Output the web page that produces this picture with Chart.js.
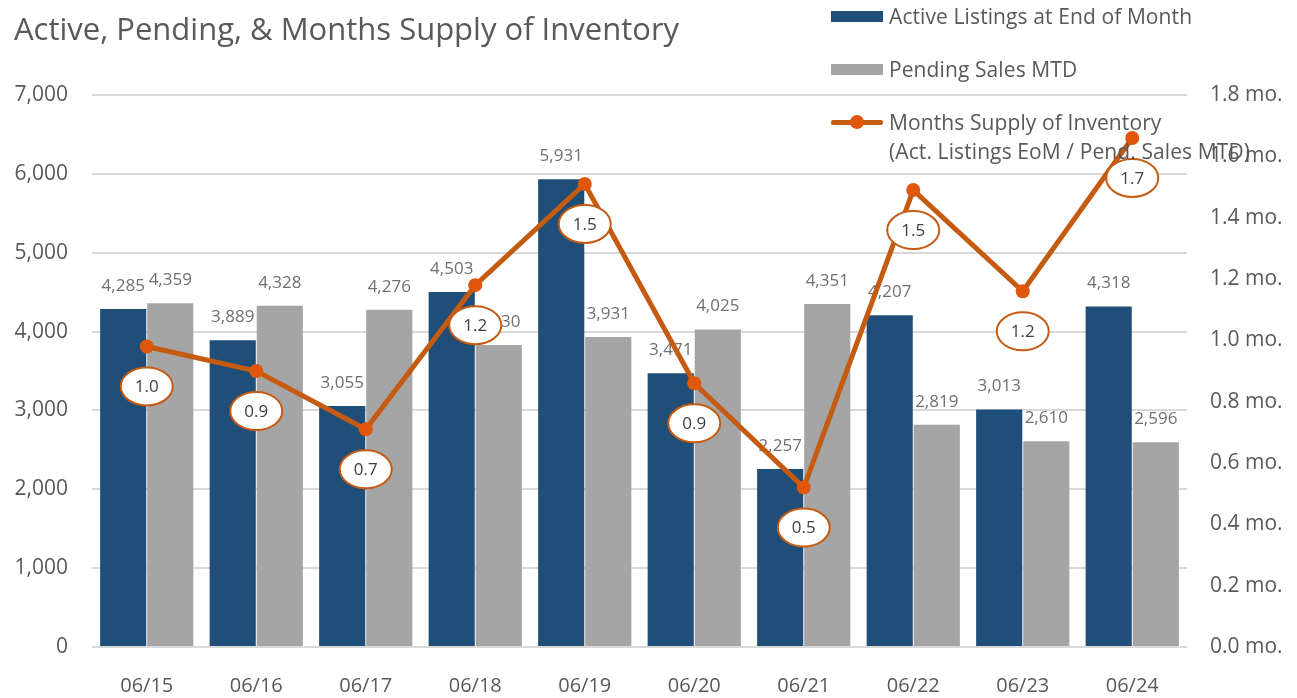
<!DOCTYPE html>
<html>
<head>
<meta charset="utf-8">
<script src="https://cdn.jsdelivr.net/npm/chart.js@4.4.1/dist/chart.umd.min.js"></script>
<style>
  html,body{margin:0;padding:0;background:#fff;}
  #wrap{position:relative;width:1297px;height:698px;font-family:"Open Sans","Noto Sans",sans-serif;color:#595959;}
  canvas{position:absolute;left:0;top:0;}
  #title{position:absolute;left:14px;top:7px;font-size:31px;line-height:42px;color:#595959;white-space:nowrap;}
  .lg{position:absolute;font-size:21px;line-height:29px;color:#595959;white-space:nowrap;letter-spacing:0.1px;}
  .sw{position:absolute;width:52px;height:11px;}
</style>
</head>
<body>
<div id="wrap">
  <canvas id="c" width="1297" height="698"></canvas>
  <div id="title">Active, Pending, &amp; Months Supply of Inventory</div>
  <div class="sw" style="left:831px;top:11px;background:#1f4e79;"></div>
  <div class="lg" style="left:889px;top:2px;">Active Listings at End of Month</div>
  <div class="sw" style="left:831px;top:64px;background:#a5a5a5;"></div>
  <div class="lg" style="left:889px;top:55px;">Pending Sales MTD</div>
  <div style="position:absolute;left:831px;top:120px;width:52px;height:5px;background:#c55a11;border-radius:2px;"></div>
  <div style="position:absolute;left:850px;top:115px;width:14px;height:14px;background:#e0570b;border-radius:50%;"></div>
  <div class="lg" style="left:889px;top:108px;">Months Supply of Inventory<br>(Act. Listings EoM / Pend. Sales MTD)</div>
</div>
<script>
const categories = ["06/15","06/16","06/17","06/18","06/19","06/20","06/21","06/22","06/23","06/24"];
const activeListings = [4285,3889,3055,4503,5931,3471,2257,4207,3013,4318];
const pendingSales = [4359,4328,4276,3830,3931,4025,4351,2819,2610,2596];
const monthsSupply = [0.98,0.90,0.71,1.18,1.51,0.86,0.52,1.49,1.16,1.66];
const leftTicks = [0,1000,2000,3000,4000,5000,6000,7000];
const rightTicks = [0,0.2,0.4,0.6,0.8,1.0,1.2,1.4,1.6,1.8];

const FONT = '"Open Sans","Noto Sans",sans-serif';

const labelPlugin = {
  id: 'labels',
  afterDatasetDraw(chart, args) {
    const ds = chart.data.datasets[args.index];
    if (ds.type !== 'bar') return;
    const ctx = chart.ctx;
    ctx.save();
    ctx.font = '17px ' + FONT;
    ctx.fillStyle = '#707070';
    ctx.textAlign = 'center';
    ctx.textBaseline = 'middle';
    args.meta.data.forEach((el, i) => {
      ctx.fillText(ds.data[i].toLocaleString('en-US'), el.x, el.y - 23);
    });
    ctx.restore();
  },
  afterDatasetsDraw(chart) {
    const ctx = chart.ctx;
    chart.data.datasets.forEach((ds, di) => {
      if (ds.type !== 'line') return;
      const meta = chart.getDatasetMeta(di);
      meta.data.forEach((el, i) => {
        const cx = el.x, cy = el.y + 40;
        ctx.save();
        ctx.beginPath();
        ctx.ellipse(cx, cy, 26, 19, 0, 0, Math.PI * 2);
        ctx.fillStyle = '#ffffff';
        ctx.fill();
        ctx.lineWidth = 2;
        ctx.strokeStyle = '#c55a11';
        ctx.stroke();
        ctx.font = '17px ' + FONT;
        ctx.fillStyle = '#404040';
        ctx.textAlign = 'center';
        ctx.textBaseline = 'middle';
        ctx.fillText((Math.round(ds.data[i] * 10 + 1e-9) / 10).toFixed(1), cx, cy + 1);
        ctx.restore();
      });
    });
  }
};

new Chart(document.getElementById('c'), {
  data: {
    labels: categories,
    datasets: [
      {
        type: 'line',
        label: 'Months Supply of Inventory',
        data: monthsSupply,
        yAxisID: 'y2',
        borderColor: '#c55a11',
        borderWidth: 5,
        pointRadius: 7,
        pointBackgroundColor: '#e0570b',
        pointBorderWidth: 0,
        tension: 0,
        order: 0
      },
      {
        type: 'bar',
        label: 'Active Listings at End of Month',
        data: activeListings,
        yAxisID: 'y',
        backgroundColor: '#1f4e79',
        categoryPercentage: 0.86,
        barPercentage: 0.98,
        order: 1
      },
      {
        type: 'bar',
        label: 'Pending Sales MTD',
        data: pendingSales,
        yAxisID: 'y',
        backgroundColor: '#a5a5a5',
        categoryPercentage: 0.86,
        barPercentage: 0.98,
        order: 2
      }
    ]
  },
  options: {
    responsive: false,
    animation: false,
    layout: { padding: { top: 95, left: 0, right: 0, bottom: 0 } },
    plugins: { legend: { display: false }, tooltip: { enabled: false } },
    scales: {
      x: {
        grid: { display: false },
        border: { display: false },
        ticks: { font: { family: FONT, size: 20 }, color: '#595959', padding: 19 },
        afterFit(s) { s.height = 51; }
      },
      y: {
        position: 'left',
        min: 0, max: 7000,
        afterBuildTicks(s) { s.ticks = leftTicks.map(v => ({ value: v })); },
        grid: { color: '#d9d9d9', lineWidth: 2, drawTicks: false },
        border: { display: false },
        ticks: { font: { family: FONT, size: 21 }, color: '#595959', padding: 24,
          callback: v => v.toLocaleString('en-US') },
        afterFit(s) { s.width = 92; }
      },
      y2: {
        position: 'right',
        min: 0, max: 1.8,
        afterBuildTicks(s) { s.ticks = rightTicks.map(v => ({ value: v })); },
        grid: { display: false, drawTicks: false },
        border: { display: false },
        ticks: { font: { family: FONT, size: 21 }, color: '#595959', padding: 23,
          callback: v => Number(v).toFixed(1) + ' mo.' },
        afterFit(s) { s.width = 110; }
      }
    }
  },
  plugins: [labelPlugin]
});
</script>
</body>
</html>
